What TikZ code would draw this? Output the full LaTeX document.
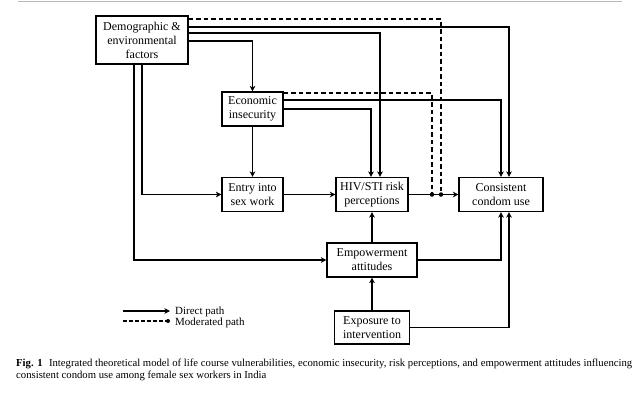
\documentclass[tikz,border=0pt]{standalone}
\usepackage{fontspec}
\setmainfont{Liberation Serif}
\usetikzlibrary{arrows.meta}
\tikzset{
  box/.style={draw, line width=1.1pt, align=center, inner sep=0pt, font=\fontsize{12}{14}\selectfont},
  arr/.style={line width=1.1pt, -{Stealth[length=5.5pt,width=5.5pt,inset=1.5pt]}},
  modpath/.style={line width=1.1pt, dash pattern=on 4.5pt off 3pt},
  dotnode/.style={circle, fill, inner sep=0pt, minimum size=4.5pt},
  legtext/.style={anchor=base west, inner sep=0pt, text height=5pt, text depth=0pt, font=\fontsize{11}{12}\selectfont},
}
\begin{document}
\begin{tikzpicture}[x=1pt,y=-1pt]
\useasboundingbox (0,0) rectangle (640,394);
\draw[black!28, line width=1pt] (18,1) -- (622,1);

\node[box, minimum width=92pt, minimum height=48pt] (dem) at (142,40) {Demographic \&\\environmental\\factors};
\node[box, minimum width=61pt, minimum height=34pt] (eco) at (252.5,109) {Economic\\insecurity};
\node[box, minimum width=61pt, minimum height=34pt] (entry) at (252.5,194.5) {Entry into\\sex work};
\node[box, minimum width=72pt, minimum height=34pt] (hiv) at (372,194.5) {HIV/STI risk\\perceptions};
\node[box, minimum width=84pt, minimum height=34pt] (cons) at (501,194.5) {Consistent\\condom use};
\node[box, minimum width=90pt, minimum height=34pt] (emp) at (372,260) {Empowerment\\attitudes};
\node[box, minimum width=75pt, minimum height=33pt] (exp) at (372,327.5) {Exposure to\\intervention};

% moderated paths
\coordinate (m1) at (441,194.5);
\coordinate (m2) at (432,194.5);
\draw[modpath] (dem.east |- 0,19) -| (m1);
\draw[modpath] (eco.east |- 0,93) -| (m2);

% direct paths from demographic
\draw[arr] (dem.east |- 0,27) -| (cons.north -| 509,0);
\draw[arr] (dem.east |- 0,33) -| (hiv.north -| 380,0);
\draw[arr] (dem.east |- 0,41) -| (eco.north);
\draw[arr] (dem.south -| 142,0) |- (entry.west);
\draw[arr] (dem.south -| 134,0) |- (emp.west);

% from economic insecurity
\draw[arr] (eco.east |- 0,100) -| (cons.north -| 501,0);
\draw[arr] (eco.east) -| (hiv.north -| 371,0);
\draw[arr] (eco.south) -- (entry.north);

\draw[arr] (entry.east) -- (hiv.west);
\draw[arr] (hiv.east) -- (cons.west);
\draw[arr] (emp.north) -- (hiv.south);
\draw[arr] (emp.east) -| (cons.south -| 501,0);
\draw[arr] (exp.north) -- (emp.south);
\draw[arr] (exp.east) -| (cons.south -| 509,0);

\node[dotnode] (d1) at (m1) {};
\node[dotnode] (d2) at (m2) {};

% legend
\coordinate (la1) at (123,311);
\coordinate (lb1) at (170,311);
\coordinate (la2) at (123,321);
\coordinate (lb2) at (168,321);
\draw[arr] (la1) -- (lb1);
\draw[modpath, dash pattern=on 3.5pt off 2.5pt] (la2) -- (lb2);
\node[dotnode, minimum size=4pt] (ld) at (lb2) {};
\node[legtext] (lt1) at (175,314) {Direct path};
\node[legtext] (lt2) at (175,325) {Moderated path};

% caption
\node[anchor=north west, inner sep=0pt, align=left, font=\fontsize{10.7}{12}\selectfont] (cap) at (16,359)
  {\textbf{Fig. 1}\hspace{0.6em}Integrated theoretical model of life course vulnerabilities, economic insecurity, risk perceptions, and empowerment attitudes influencing\\consistent condom use among female sex workers in India};
\end{tikzpicture}
\end{document}
